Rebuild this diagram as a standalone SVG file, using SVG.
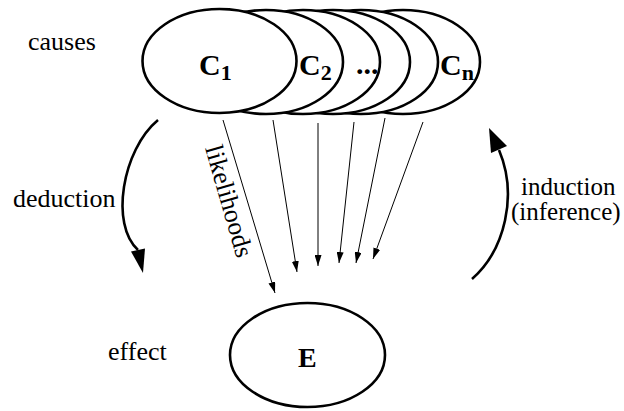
<svg xmlns="http://www.w3.org/2000/svg" width="624" height="411" viewBox="0 0 624 411">
<defs>
<style>
.ell{fill:#fff;stroke:#000;stroke-width:2.6}
.lbl{font-family:"Liberation Serif",serif;font-size:26px;fill:#000}
.big{font-family:"Liberation Serif",serif;font-size:30px;font-weight:bold;fill:#000}
.sub{font-size:22px}
.thin{fill:none;stroke:#000;stroke-width:1}
.arc{fill:none;stroke:#000;stroke-width:2.6}
</style>
<marker id="ah" markerUnits="userSpaceOnUse" markerWidth="11" markerHeight="7" refX="11" refY="3.5" orient="auto">
<path d="M0,0 L11,3.5 L0,7 z" fill="#000"/>
</marker>
</defs>
<rect width="624" height="411" fill="#fff"/>
<g id="causes">
<ellipse id="cn" class="ell" cx="403" cy="62" rx="77" ry="52"/>
<ellipse class="ell" cx="361" cy="62" rx="77" ry="52"/>
<ellipse class="ell" cx="333" cy="62" rx="77" ry="52"/>
<ellipse class="ell" cx="303" cy="62" rx="77" ry="52"/>
<ellipse class="ell" cx="266" cy="62" rx="77" ry="52"/>
<ellipse class="ell" cx="219.5" cy="61" rx="77" ry="52"/>
<text class="big" x="199" y="75">C<tspan class="sub" dy="5">1</tspan></text>
<text class="big" x="299" y="75">C<tspan class="sub" dy="5">2</tspan></text>
<text class="big" x="356" y="74">...</text>
<text class="big" x="440" y="75">C<tspan class="sub" dy="5">n</tspan></text>
</g>
<g id="effect">
<ellipse class="ell" cx="307.5" cy="355" rx="77.5" ry="52"/>
<text class="big" x="298" y="367" style="font-size:28px">E</text>
</g>
<g id="labels">
<text class="lbl" x="28" y="50">causes</text>
<text class="lbl" x="108" y="360">effect</text>
<text class="lbl" x="13" y="207">deduction</text>
<text class="lbl" x="521" y="195" style="font-size:25px">induction</text>
<text class="lbl" x="511" y="220" style="font-size:25px">(inference)</text>
<text class="lbl" transform="translate(205,148) rotate(74)">likelihoods</text>
</g>
<g id="connectors">
<line class="thin" x1="223" y1="120" x2="275" y2="293" marker-end="url(#ah)"/>
<line class="thin" x1="273" y1="120" x2="297" y2="272" marker-end="url(#ah)"/>
<line class="thin" x1="318" y1="123" x2="318" y2="266" marker-end="url(#ah)"/>
<line class="thin" x1="354" y1="122" x2="339" y2="263" marker-end="url(#ah)"/>
<line class="thin" x1="385" y1="118" x2="356" y2="263" marker-end="url(#ah)"/>
<line class="thin" x1="423" y1="122" x2="373" y2="259" marker-end="url(#ah)"/>
<path class="arc" d="M158,120 C122,150 110,225 138,250"/>
<polygon points="143,273 131,251.5 145,248.5" fill="#000"/>
<path class="arc" d="M472,279 C505,250 518,195 499,150"/>
<polygon points="489,128 491,153 507,146" fill="#000"/>
</g>
</svg>
